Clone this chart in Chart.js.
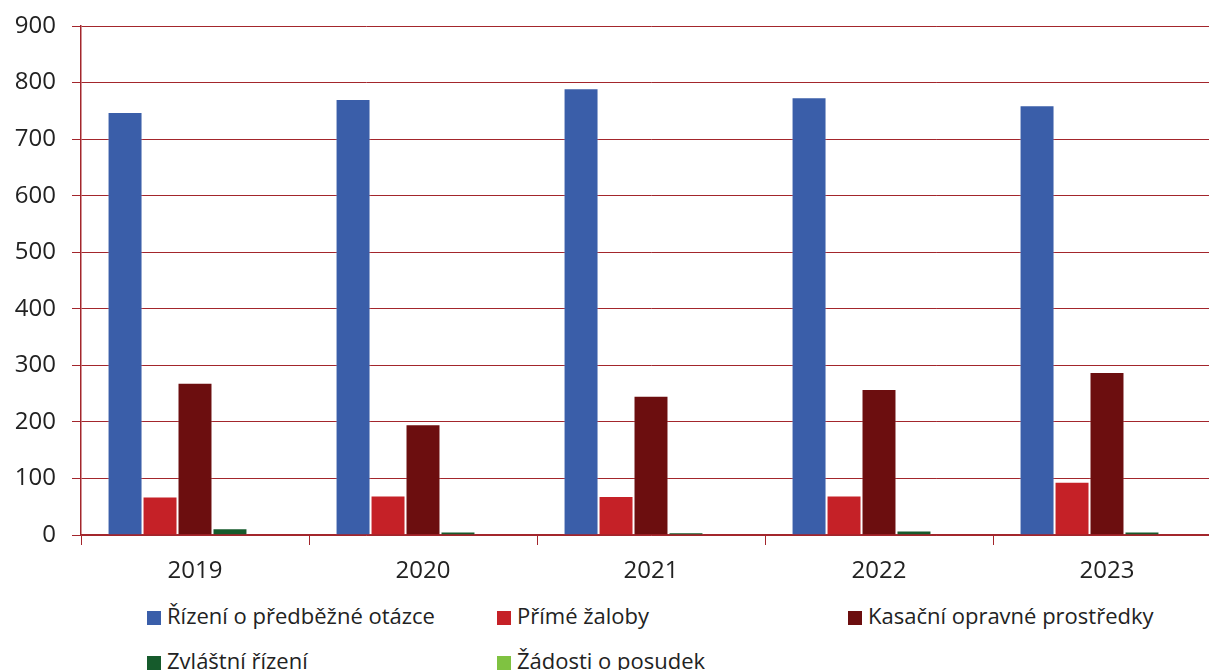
<!DOCTYPE html>
<html>
<head>
<meta charset="utf-8">
<script src="https://cdn.jsdelivr.net/npm/chart.js@4/dist/chart.umd.min.js"></script>
<style>
  body { margin: 0; overflow: hidden; background: #fff; font-family: "Open Sans", sans-serif; }
  #wrap { position: relative; width: 1222px; height: 600px; }
  #legend { position: absolute; left: 0; top: 596px; width: 1209px; }
  .item { position: absolute; font-size: 22px; color: #222; white-space: nowrap; line-height: 28px; }
  .box { display: inline-block; width: 14px; height: 14px; margin-right: 6px; vertical-align: -1px; }
</style>
</head>
<body>
<div id="wrap"><canvas id="chart"></canvas></div>
<div id="legend"></div>
<script>
const years = ["2019", "2020", "2021", "2022", "2023"];
const seriesNames = ["Řízení o předběžné otázce", "Přímé žaloby", "Kasační opravné prostředky", "Zvláštní řízení", "Žádosti o posudek"];
const prelim = [748, 771, 790, 774, 760];
const direct = [68, 70, 69, 70, 94];
const appeals = [269, 196, 246, 258, 288];
const special = [12, 6, 5, 8, 6];
const opinions = [1, 1, 1, 0, 0];
const yTicks = [0, 100, 200, 300, 400, 500, 600, 700, 800, 900];

const colors = ["#3a5ea9", "#c52127", "#6c0e0f", "#165b2c", "#7fc241"];
const seriesData = [prelim, direct, appeals, special, opinions];

document.addEventListener("DOMContentLoaded", function () {
    const gridColor = "#a3262c";

    const chart = new Chart(document.getElementById("chart").getContext("2d"), {
        type: "bar",
        data: {
            labels: years,
            datasets: seriesNames.map((name, i) => ({
                label: name,
                data: seriesData[i],
                backgroundColor: colors[i],
                borderColor: "rgba(255,255,255,0.35)",
                borderWidth: 1,
                barPercentage: 1,
                categoryPercentage: 0.767
            }))
        },
        options: {
            responsive: true,
            maintainAspectRatio: false,
            animation: false,
            layout: { padding: { top: 26, right: 1, left: 0, bottom: 0 } },
            plugins: { legend: { display: false }, tooltip: { enabled: false } },
            scales: {
                x: {
                    grid: { drawOnChartArea: false, color: gridColor, tickLength: 10, offset: true },
                    border: { color: gridColor, width: 1.5 },
                    ticks: { color: "#222", font: { family: "Open Sans", size: 24 }, padding: 12 },
                    afterFit: s => { s.height = 65; }
                },
                y: {
                    min: 0,
                    max: 900,
                    afterBuildTicks: s => { s.ticks = yTicks.map(v => ({ value: v })); },
                    grid: { color: gridColor, tickLength: 9, lineWidth: 1 },
                    border: { color: gridColor, width: 1.5 },
                    ticks: { color: "#222", font: { family: "Open Sans", size: 24 }, padding: 16 },
                    afterFit: s => { s.width = 81; s.paddingTop = 0; }
                }
            }
        }
    });

    // legend in two rows, fixed columns like the original
    const legend = document.getElementById("legend");
    const cols = [147, 497, 848];
    seriesNames.forEach((name, i) => {
        const el = document.createElement("div");
        el.className = "item";
        el.style.left = cols[i % 3] + "px";
        el.style.top = (i < 3 ? 5 : 50) + "px";
        el.innerHTML = '<span class="box" style="background:' + colors[i] + '"></span>' + name;
        legend.appendChild(el);
    });
});
</script>
</body>
</html>
